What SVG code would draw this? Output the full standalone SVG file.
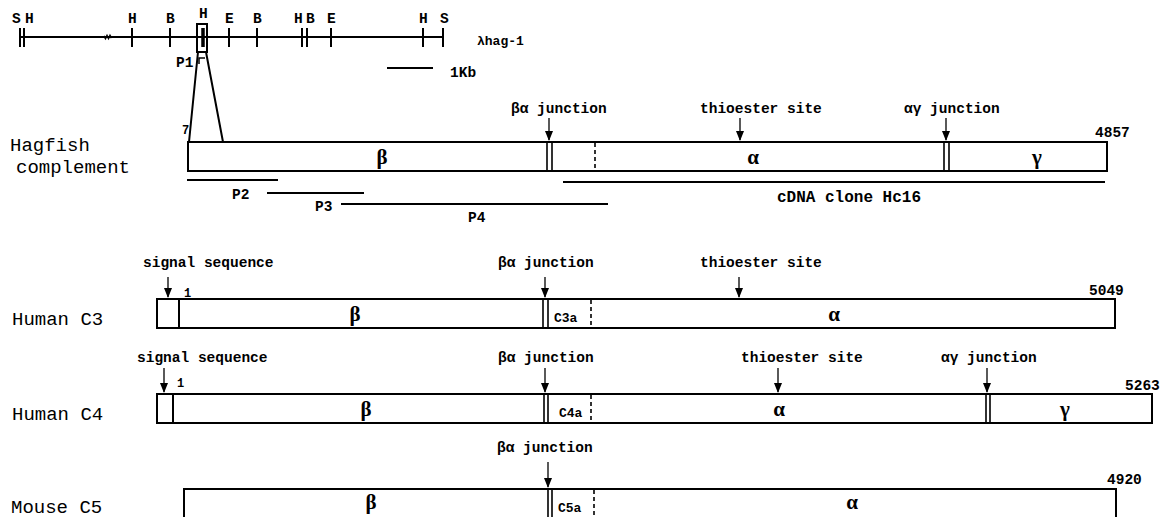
<svg xmlns="http://www.w3.org/2000/svg" width="1172" height="517" viewBox="0 0 1172 517">
<defs>
<marker id="ah" markerUnits="userSpaceOnUse" markerWidth="10" markerHeight="12" refX="9" refY="4" orient="auto">
<path d="M0,0 L10,4 L0,8 Z" fill="#000"/>
</marker>
<style>
.ln{stroke:#000;stroke-width:2;fill:none}
.bx{stroke:#000;stroke-width:2;fill:#fff}
.th{stroke:#000;stroke-width:1.6;fill:none}
.ds{stroke:#000;stroke-width:1.6;stroke-dasharray:4 3;fill:none}
.ar{stroke:#000;stroke-width:1.3;fill:none;marker-end:url(#ah)}
.lb{font-family:"Liberation Mono","DejaVu Sans Mono",monospace;font-weight:bold;font-size:14.5px;fill:#000}
.sm{font-family:"Liberation Mono","DejaVu Sans Mono",monospace;font-weight:bold;font-size:12px;fill:#000}
.nm{font-family:"Liberation Mono","DejaVu Sans Mono",monospace;font-size:19px;fill:#000}
.gk{font-family:"Liberation Serif","DejaVu Serif",serif;font-weight:bold;font-size:21px;fill:#000;text-anchor:middle}
.sb{font-family:"Liberation Mono","DejaVu Sans Mono",monospace;font-weight:bold;font-size:13px;fill:#000}
</style>
</defs>
<rect width="1172" height="517" fill="#fff"/>

<g id="map">
<path class="ln" d="M20,37 H443"/>
<path class="ln" d="M20,28 V47 M24,28 V47 M132,28 V47 M170,28 V47 M229,28 V47 M257,28 V47 M302,28 V47 M307,28 V47 M331,28 V47 M423,28 V47 M443,28 V47"/>
<path d="M203,28 V47" stroke="#000" stroke-width="3.5"/>
<path d="M104,36 l1.5,2.5 l1.5,-3 l1.5,3 l1.5,-3 l1.5,2.5" stroke="#000" stroke-width="1.6" fill="none"/>
<rect class="ln" x="197" y="24" width="10" height="28"/>
<text class="lb" x="12" y="23">S</text>
<text class="lb" x="25" y="23">H</text>
<text class="lb" x="128" y="23">H</text>
<text class="lb" x="166" y="23">B</text>
<text class="lb" x="199" y="18">H</text>
<text class="lb" x="225" y="23">E</text>
<text class="lb" x="253" y="23">B</text>
<text class="lb" x="294" y="23">H</text>
<text class="lb" x="306" y="23">B</text>
<text class="lb" x="327" y="23">E</text>
<text class="lb" x="419" y="23">H</text>
<text class="lb" x="440" y="23">S</text>
<text class="sb" x="477" y="45">λhag-1</text>
<path class="ln" d="M387,68 H433"/>
<text class="lb" x="450" y="77">1Kb</text>
<text class="lb" x="176" y="67">P1</text>
<path d="M199,64 V58 H205" stroke="#000" stroke-width="1.5" fill="none"/>
</g>

<g id="hagfish">
<text class="nm" x="10" y="151">Hagfish</text>
<text class="nm" x="16" y="173">complement</text>
<rect class="bx" x="188" y="142" width="919" height="29"/>
<path class="th" d="M547,142 V171 M552,142 V171 M944,142 V171 M949,142 V171"/>
<path class="ds" d="M595,143 V171"/>
<text class="sm" x="182" y="134">7</text>
<text class="lb" x="1095" y="137">4857</text>
<text class="gk" x="382" y="164">β</text>
<text class="gk" x="753" y="164">α</text>
<text class="gk" x="1037" y="164">γ</text>
<text class="lb" x="511" y="113">βα junction</text>
<text class="lb" x="700" y="113">thioester site</text>
<text class="lb" x="904" y="113">αγ junction</text>
<path class="ln" d="M563,182 H1105"/>
<text class="lb" x="777" y="202" style="font-size:16px">cDNA clone Hc16</text>
<path class="ln" d="M187,180 H278 M267,193 H364 M341,204 H608"/>
<text class="lb" x="232" y="199">P2</text>
<text class="lb" x="315" y="211">P3</text>
<text class="lb" x="468" y="222">P4</text>
</g>

<g id="human-c3">
<text class="nm" x="12" y="325">Human C3</text>
<rect class="bx" x="157" y="299" width="958" height="29"/>
<path class="ln" d="M179,299 V328"/>
<path class="th" d="M543,299 V328 M548,299 V328"/>
<path class="ds" d="M591,300 V328"/>
<text class="sm" x="184" y="297">1</text>
<text class="lb" x="1089" y="295">5049</text>
<text class="lb" x="143" y="267">signal sequence</text>
<text class="lb" x="498" y="267">βα junction</text>
<text class="lb" x="700" y="267">thioester site</text>
<text class="gk" x="355" y="321">β</text>
<text class="gk" x="834" y="321">α</text>
<text class="sb" x="554" y="322">C3a</text>
</g>

<g id="human-c4">
<text class="nm" x="12" y="420">Human C4</text>
<rect class="bx" x="157" y="394" width="995" height="29"/>
<path class="ln" d="M173,394 V423"/>
<path class="th" d="M544,394 V423 M548,394 V423 M986,394 V423 M990,394 V423"/>
<path class="ds" d="M591,395 V423"/>
<text class="sm" x="177" y="387">1</text>
<text class="lb" x="1125" y="390">5263</text>
<text class="lb" x="137" y="362">signal sequence</text>
<text class="lb" x="498" y="362">βα junction</text>
<text class="lb" x="741" y="362">thioester site</text>
<text class="lb" x="941" y="362">αγ junction</text>
<text class="gk" x="366" y="416">β</text>
<text class="gk" x="779" y="416">α</text>
<text class="gk" x="1065" y="416">γ</text>
<text class="sb" x="559" y="417">C4a</text>
</g>

<g id="mouse-c5">
<text class="nm" x="11" y="513">Mouse C5</text>
<rect class="bx" x="184" y="489" width="932" height="31"/>
<path class="th" d="M548,489 V518 M552,489 V518"/>
<path class="ds" d="M594,490 V518"/>
<text class="lb" x="1107" y="484">4920</text>
<text class="lb" x="497" y="452">βα junction</text>
<text class="gk" x="371" y="509">β</text>
<text class="gk" x="852" y="509">α</text>
<text class="sb" x="558" y="512">C5a</text>
</g>

<g id="connectors">
<path class="ln" d="M198,52 L189,142 M206,52 L223,142"/>
<path class="ar" d="M549,118 V140"/>
<path class="ar" d="M740,118 V140"/>
<path class="ar" d="M946,118 V140"/>
<path class="ar" d="M168,277 V297"/>
<path class="ar" d="M545,277 V297"/>
<path class="ar" d="M739,277 V297"/>
<path class="ar" d="M164,368 V392"/>
<path class="ar" d="M545,368 V392"/>
<path class="ar" d="M778,368 V392"/>
<path class="ar" d="M987,368 V392"/>
<path class="ar" d="M548,462 V487"/>
</g>
</svg>
